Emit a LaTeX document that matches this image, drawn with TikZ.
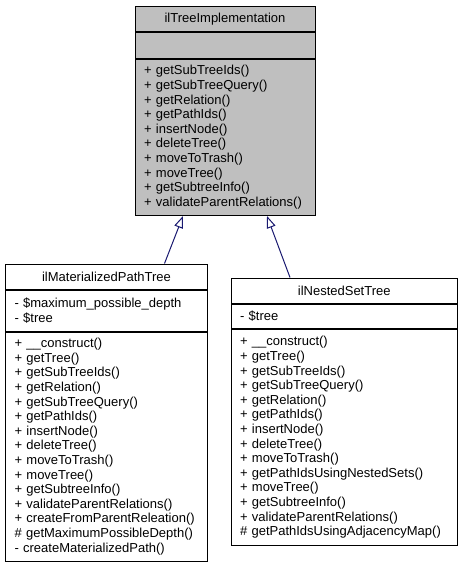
\documentclass[tikz,border=0pt]{standalone}
\usepackage{fontspec}
\setmainfont{Liberation Sans}
\usetikzlibrary{arrows.meta}
\definecolor{classgray}{HTML}{BFBFBF}
\definecolor{edgeblue}{HTML}{191970}

\begin{document}
\begin{tikzpicture}[x=1pt, y=-1pt, font=\fontsize{13}{14.6}\selectfont,
  part/.style={draw=black, line width=1pt, anchor=north west, inner xsep=9pt, inner ysep=0pt, align=left},
  head/.style={part, align=center},
  inherit/.style={draw=edgeblue, line width=1pt, -{Triangle[open, length=12pt, width=9pt]}}]
\useasboundingbox (0,0) rectangle (461,565);
\node[head, fill=classgray, text width=162pt, minimum height=25pt] (impltitle) at (134.5,6) {ilTreeImplementation};
\node[part, fill=classgray, text width=162pt, minimum height=25.5pt] (implattrs) at (impltitle.south west) {};
\node[part, fill=classgray, text width=162pt, minimum height=156.5pt] (implops) at (implattrs.south west) {+ getSubTreeIds()\\+ getSubTreeQuery()\\+ getRelation()\\+ getPathIds()\\+ insertNode()\\+ deleteTree()\\+ moveToTrash()\\+ moveTree()\\+ getSubtreeInfo()\\+ validateParentRelations()};
\node[head, fill=white, text width=184pt, minimum height=25.5pt] (mpttitle) at (5,263.5) {ilMaterializedPathTree};
\node[part, fill=white, text width=184pt, minimum height=40.5pt] (mptattrs) at (mpttitle.south west) {- \$maximum\_possible\_depth\\- \$tree};
\node[part, fill=white, text width=184pt, minimum height=229pt] (mptops) at (mptattrs.south west) {+ \_\_construct()\\+ getTree()\\+ getSubTreeIds()\\+ getRelation()\\+ getSubTreeQuery()\\+ getPathIds()\\+ insertNode()\\+ deleteTree()\\+ moveToTrash()\\+ moveTree()\\+ getSubtreeInfo()\\+ validateParentRelations()\\+ createFromParentReleation()\\\# getMaximumPossibleDepth()\\- createMaterializedPath()};
\node[head, fill=white, text width=208.5pt, minimum height=25pt] (nsttitle) at (230.5,277.5) {ilNestedSetTree};
\node[part, fill=white, text width=208.5pt, minimum height=24.5pt] (nstattrs) at (nsttitle.south west) {- \$tree};
\node[part, fill=white, text width=208.5pt, minimum height=216pt] (nstops) at (nstattrs.south west) {+ \_\_construct()\\+ getTree()\\+ getSubTreeIds()\\+ getSubTreeQuery()\\+ getRelation()\\+ getPathIds()\\+ insertNode()\\+ deleteTree()\\+ moveToTrash()\\+ getPathIdsUsingNestedSets()\\+ moveTree()\\+ getSubtreeInfo()\\+ validateParentRelations()\\\# getPathIdsUsingAdjacencyMap()};
\draw[inherit] ([xshift=159.5pt]mpttitle.north west) -- ([xshift=48.5pt]implops.south west);
\draw[inherit] ([xshift=59.5pt]nsttitle.north west) -- ([xshift=132.5pt]implops.south west);
\end{tikzpicture}
\end{document}
